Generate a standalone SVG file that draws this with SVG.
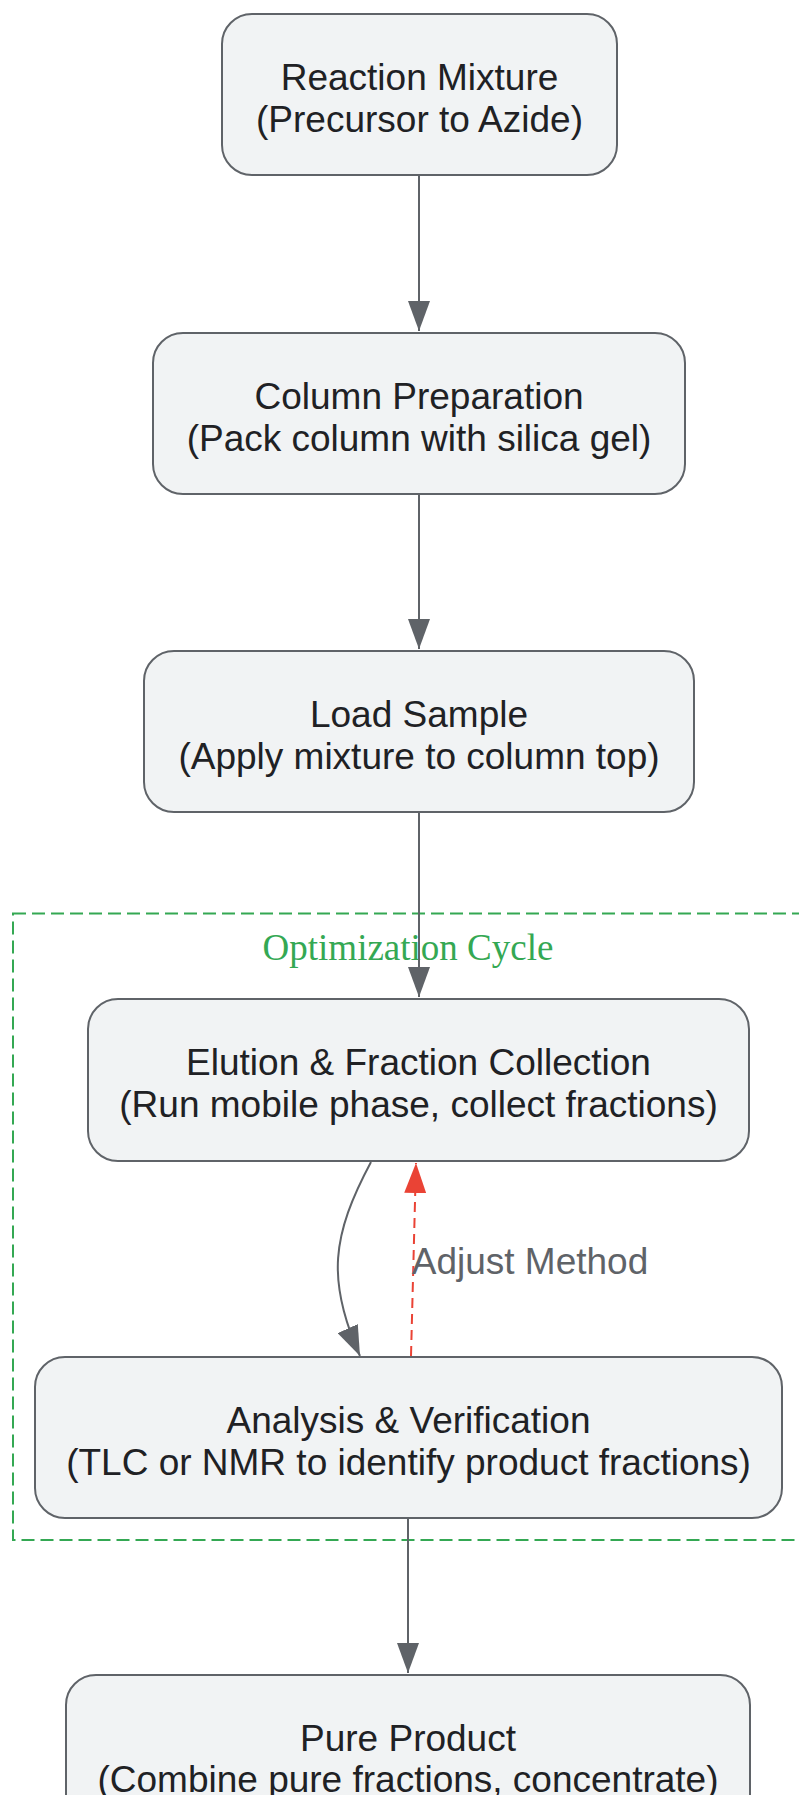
<svg xmlns="http://www.w3.org/2000/svg" width="799" height="1795" viewBox="0 0 799 1795">
<style>
.node rect{fill:#f1f3f4;stroke:#5f6368;stroke-width:2}
.node text{font-family:"Liberation Sans",Arial,sans-serif;font-size:37px;fill:#202124;text-anchor:middle}
.edge{fill:none;stroke:#5f6368;stroke-width:2}
.edge-red{fill:none;stroke:#ea4335;stroke-width:2;stroke-dasharray:10,6}
.cluster rect{fill:none;stroke:#34a853;stroke-width:2;stroke-dasharray:13,6}
.cluster text{font-family:"Liberation Serif","Times New Roman",serif;font-size:37px;fill:#34a853;text-anchor:middle}
.elabel{font-family:"Liberation Sans",Arial,sans-serif;font-size:37px;fill:#5f6368;text-anchor:middle}
</style>
<defs>
<marker id="arr" markerUnits="userSpaceOnUse" markerWidth="30" markerHeight="22" viewBox="0 0 30 22" refX="30" refY="11" orient="auto">
<path d="M0,0 L30,11 L0,22 z" fill="#5f6368"/>
</marker>
<marker id="arrRed" markerUnits="userSpaceOnUse" markerWidth="30" markerHeight="22" viewBox="0 0 30 22" refX="30" refY="11" orient="auto">
<path d="M0,0 L30,11 L0,22 z" fill="#ea4335"/>
</marker>
</defs>
<g id="cluster-optimization" class="cluster">
<rect x="13" y="913.5" width="790" height="626.5"/>
<text x="408" y="960">Optimization Cycle</text>
</g>
<g id="node-reaction" class="node">
<rect x="222" y="14" width="395" height="161" rx="30" ry="30"/>
<text x="419.5" y="90">Reaction Mixture</text>
<text x="419.5" y="132">(Precursor to Azide)</text>
</g>
<g id="node-column" class="node">
<rect x="153" y="333" width="532" height="161" rx="30" ry="30"/>
<text x="419" y="409">Column Preparation</text>
<text x="419" y="451">(Pack column with silica gel)</text>
</g>
<g id="node-load" class="node">
<rect x="144" y="651" width="550" height="161" rx="30" ry="30"/>
<text x="419" y="727">Load Sample</text>
<text x="419" y="769">(Apply mixture to column top)</text>
</g>
<g id="node-elution" class="node">
<rect x="88" y="999" width="661" height="162" rx="30" ry="30"/>
<text x="418.5" y="1075">Elution &amp; Fraction Collection</text>
<text x="418.5" y="1117">(Run mobile phase, collect fractions)</text>
</g>
<g id="node-analysis" class="node">
<rect x="35" y="1357" width="747" height="161" rx="30" ry="30"/>
<text x="408.5" y="1433">Analysis &amp; Verification</text>
<text x="408.5" y="1475">(TLC or NMR to identify product fractions)</text>
</g>
<g id="node-pure" class="node">
<rect x="66" y="1675" width="684" height="161" rx="30" ry="30"/>
<text x="408" y="1751">Pure Product</text>
<text x="408" y="1792">(Combine pure fractions, concentrate)</text>
</g>
<g id="connectors">
<path class="edge" d="M419,175 L419,331" marker-end="url(#arr)"/>
<path class="edge" d="M419,494 L419,649" marker-end="url(#arr)"/>
<path class="edge" d="M419,812 L419,997" marker-end="url(#arr)"/>
<path class="edge" d="M371,1162 C332,1235 326,1280 360,1356" marker-end="url(#arr)"/>
<path class="edge-red" d="M411,1356 L416,1163" marker-end="url(#arrRed)"/>
<text class="elabel" x="530" y="1274">Adjust Method</text>
<path class="edge" d="M408,1519 L408,1673" marker-end="url(#arr)"/>
</g>
</svg>
